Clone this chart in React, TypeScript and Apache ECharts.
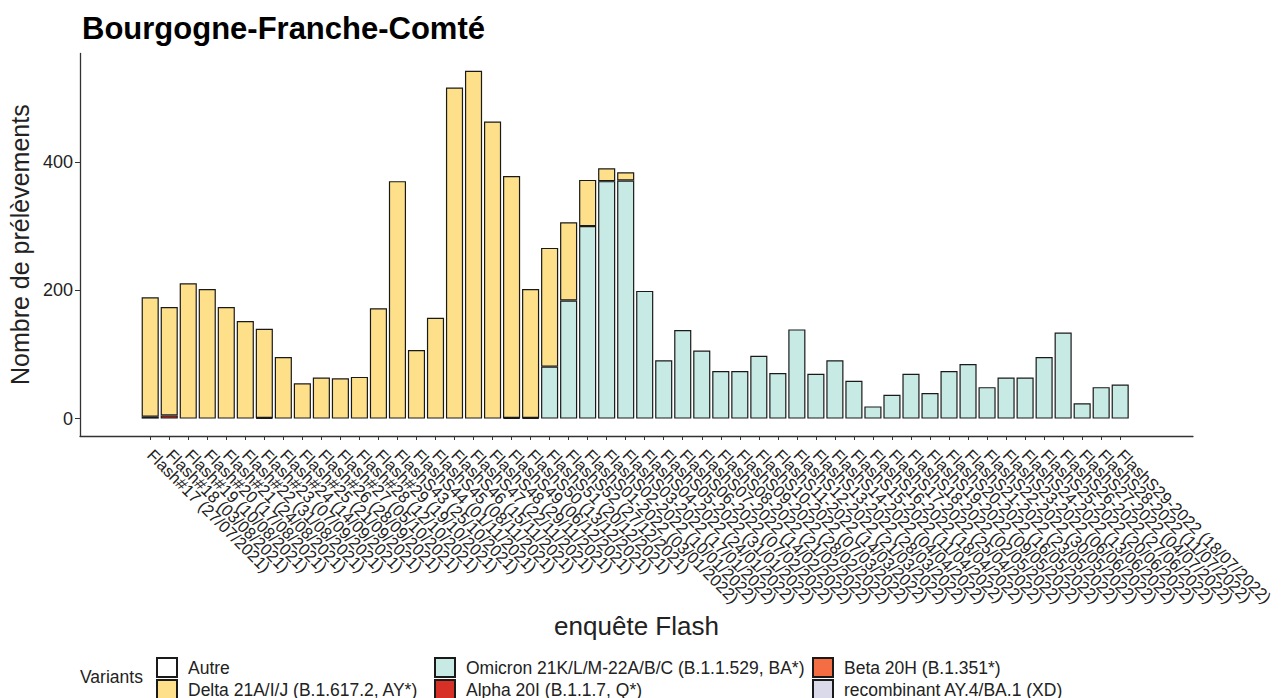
import React, { useEffect, useRef } from "react";
import * as echarts from "echarts";

const categories = [
  "Flash#17 (27/07/2021)", "Flash#18 (03/08/2021)", "Flash#19 (10/08/2021)", "Flash#20 (17/08/2021)",
  "Flash#21 (24/08/2021)", "Flash#22 (31/08/2021)", "Flash#23 (07/09/2021)", "Flash#24 (14/09/2021)",
  "Flash#25 (21/09/2021)", "Flash#26 (28/09/2021)", "Flash#27 (05/10/2021)", "Flash#28 (12/10/2021)",
  "Flash#29 (19/10/2021)", "FlashS43 (25/10/2021)", "FlashS44 (01/11/2021)", "FlashS45 (08/11/2021)",
  "FlashS46 (15/11/2021)", "FlashS47 (22/11/2021)", "FlashS48 (29/11/2021)", "FlashS49 (06/12/2021)",
  "FlashS50 (13/12/2021)", "FlashS51 (20/12/2021)", "FlashS52 (27/12/2021)", "FlashS01-2022 (03/01/2022)",
  "FlashS02-2022 (10/01/2022)", "FlashS03-2022 (17/01/2022)", "FlashS04-2022 (24/01/2022)", "FlashS05-2022 (31/01/2022)",
  "FlashS06-2022 (07/02/2022)", "FlashS07-2022 (14/02/2022)", "FlashS08-2022 (21/02/2022)", "FlashS09-2022 (28/02/2022)",
  "FlashS10-2022 (07/03/2022)", "FlashS11-2022 (14/03/2022)", "FlashS12-2022 (21/03/2022)", "FlashS13-2022 (28/03/2022)",
  "FlashS14-2022 (04/04/2022)", "FlashS15-2022 (11/04/2022)", "FlashS16-2022 (18/04/2022)", "FlashS17-2022 (25/04/2022)",
  "FlashS18-2022 (02/05/2022)", "FlashS19-2022 (09/05/2022)", "FlashS20-2022 (16/05/2022)", "FlashS21-2022 (23/05/2022)",
  "FlashS22-2022 (30/05/2022)", "FlashS23-2022 (06/06/2022)", "FlashS24-2022 (13/06/2022)", "FlashS25-2022 (20/06/2022)",
  "FlashS26-2022 (27/06/2022)", "FlashS27-2022 (04/07/2022)", "FlashS28-2022 (11/07/2022)", "FlashS29-2022 (18/07/2022)",
];

const autre = [
  0, 0, 0, 0, 0, 0, 0, 0, 0, 0, 0, 0, 0,
  0, 0, 0, 0, 0, 0, 0, 0, 0, 0, 0, 0, 0,
  0, 0, 0, 0, 0, 0, 0, 0, 0, 0, 0, 0, 0,
  0, 0, 0, 0, 0, 0, 0, 0, 0, 0, 0, 0, 0,
];
const delta = [
  186, 169, 211, 202, 174, 152, 139, 96, 55, 64, 63, 65, 172,
  370, 107, 157, 516, 542, 463, 377, 201, 185, 122, 72, 20, 13,
  0, 0, 0, 0, 0, 0, 0, 0, 0, 0, 0, 0, 0,
  0, 0, 0, 0, 0, 0, 0, 0, 0, 0, 0, 0, 0,
];
const omicron = [
  0, 0, 0, 0, 0, 0, 0, 0, 0, 0, 0, 0, 0,
  0, 0, 0, 0, 0, 0, 0, 0, 81, 184, 300, 370, 371,
  199, 91, 138, 106, 74, 74, 98, 71, 139, 70, 91, 59, 19,
  37, 70, 40, 74, 85, 49, 64, 64, 96, 134, 24, 49, 53,
];
const alpha = [
  3, 5, 0, 0, 0, 0, 0, 0, 0, 0, 0, 0, 0,
  0, 0, 0, 0, 0, 0, 0, 0, 0, 0, 0, 0, 0,
  0, 0, 0, 0, 0, 0, 0, 0, 0, 0, 0, 0, 0,
  0, 0, 0, 0, 0, 0, 0, 0, 0, 0, 0, 0, 0,
];
const beta = [
  0, 0, 0, 0, 0, 0, 1, 0, 0, 0, 0, 0, 0,
  0, 0, 0, 0, 0, 0, 1, 1, 0, 0, 0, 0, 0,
  0, 0, 0, 0, 0, 0, 0, 0, 0, 0, 0, 0, 0,
  0, 0, 0, 0, 0, 0, 0, 0, 0, 0, 0, 0, 0,
];
const recombinant = [
  0, 0, 0, 0, 0, 0, 0, 0, 0, 0, 0, 0, 0,
  0, 0, 0, 0, 0, 0, 0, 0, 0, 0, 0, 0, 0,
  0, 0, 0, 0, 0, 0, 0, 0, 0, 0, 0, 0, 0,
  0, 0, 0, 0, 0, 0, 0, 0, 0, 0, 0, 0, 0,
];

const yTicks = [0, 200, 400];

const NAMES = {
  autre: "Autre",
  delta: "Delta 21A/I/J (B.1.617.2, AY*)",
  omicron: "Omicron 21K/L/M-22A/B/C (B.1.1.529, BA*)",
  alpha: "Alpha 20I (B.1.1.7, Q*)",
  beta: "Beta 20H (B.1.351*)",
  recomb: "recombinant AY.4/BA.1 (XD)",
};

const FONT = "'Liberation Sans', Arial, Helvetica, sans-serif";

export default function App() {
  const ref = useRef<HTMLDivElement>(null);

  useEffect(() => {
    document.body.style.margin = "0";
    if (!ref.current) return;
    const chart = echarts.init(ref.current, null, { renderer: "svg" });

    const yMin = -27.1;
    const yMax = 569.1;
    const top = 53.4;
    const bottom = 698 - 436;

    const mk = (name: string, data: number[], color: string) => ({
      name,
      type: "bar",
      stack: "total",
      xAxisIndex: 1,
      yAxisIndex: 1,
      barCategoryGap: "10%",
      data: data.map((v) => (v === 0 ? null : v)),
      itemStyle: { color, borderColor: "#1a1a1a", borderWidth: 1.2 },
      emphasis: { disabled: true },
    });

    const legendBase = {
      orient: "vertical",
      top: 657,
      height: 60,
      padding: 0,
      itemWidth: 20,
      itemHeight: 19,
      itemGap: 1,
      icon: "rect",
      selectedMode: false,
      textStyle: { fontSize: 17.5, color: "#222", fontFamily: FONT, padding: [0, 0, 0, 6] },
    };

    chart.setOption({
      animation: false,
      textStyle: { fontFamily: FONT },
      title: {
        text: "Bourgogne-Franche-Comté",
        left: 77,
        top: 8,
        textStyle: { fontSize: 31, fontWeight: "bold", color: "#000", fontFamily: FONT },
      },
      legend: [
        { ...legendBase, left: 156, data: [NAMES.autre, NAMES.delta] },
        { ...legendBase, left: 434, data: [NAMES.omicron, NAMES.alpha] },
        { ...legendBase, left: 812, data: [NAMES.beta, NAMES.recomb] },
      ],
      graphic: [
        {
          type: "text",
          left: 80,
          top: 668,
          style: { text: "Variants", fontSize: 17.5, fill: "#222", fontFamily: FONT },
        },
      ],
      grid: [
        { left: 80, right: 1288 - 1193, top, bottom, containLabel: false, outerBoundsMode: "none" },
        { left: 140.7, right: 1288 - 140.7 - 989, top, bottom, containLabel: false, outerBoundsMode: "none" },
      ],
      xAxis: [
        {
          type: "value",
          gridIndex: 0,
          min: 0,
          max: 1,
          axisLine: { show: true, onZero: false, lineStyle: { color: "#333", width: 1.3 } },
          axisTick: { show: false },
          axisLabel: { show: false },
          splitLine: { show: false },
          name: "enquête Flash",
          nameLocation: "middle",
          nameGap: 177,
          nameTextStyle: { fontSize: 26, color: "#222", fontFamily: FONT },
        },
        {
          type: "category",
          gridIndex: 1,
          data: categories,
          axisLine: { show: false, onZero: false },
          axisTick: { show: true, alignWithLabel: true, length: 4, lineStyle: { color: "#333", width: 1 } },
          axisLabel: {
            interval: 0,
            rotate: -45,
            fontSize: 16.5,
            color: "#222",
            margin: 16,
            fontFamily: FONT,
          },
          splitLine: { show: false },
        },
      ],
      yAxis: [
        {
          type: "value",
          gridIndex: 0,
          min: yMin,
          max: yMax,
          axisLine: { show: true, onZero: false, lineStyle: { color: "#333", width: 1.3 } },
          axisTick: { show: true, length: 5, customValues: yTicks, lineStyle: { color: "#333" } },
          axisLabel: { customValues: yTicks, fontSize: 18, color: "#222", margin: 7, fontFamily: FONT },
          splitLine: { show: false },
          name: "Nombre de prélèvements",
          nameLocation: "middle",
          nameGap: 47,
          nameTextStyle: { fontSize: 25, color: "#222", fontFamily: FONT },
        },
        {
          type: "value",
          gridIndex: 1,
          min: yMin,
          max: yMax,
          show: false,
          axisLine: { onZero: false },
          splitLine: { show: false },
        },
      ],
      series: [
        mk(NAMES.recomb, recombinant, "#dadaeb"),
        mk(NAMES.beta, beta, "#f46d43"),
        mk(NAMES.alpha, alpha, "#d73027"),
        mk(NAMES.omicron, omicron, "#c7eae5"),
        mk(NAMES.delta, delta, "#fee08b"),
        mk(NAMES.autre, autre, "#ffffff"),
      ],
    });

    return () => chart.dispose();
  }, []);

  return <div ref={ref} style={{ width: 1288, height: 698 }} />;
}
